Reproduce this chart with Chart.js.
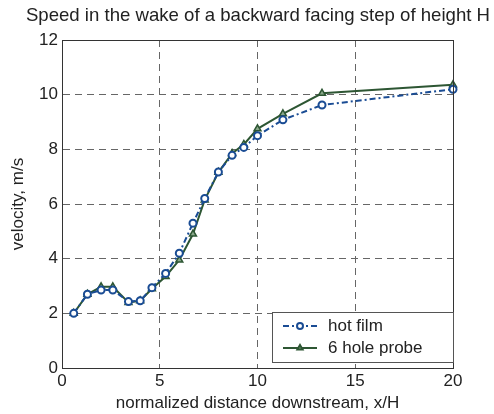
<!DOCTYPE html>
<html>
<head>
<meta charset="utf-8">
<script src="https://cdn.jsdelivr.net/npm/chart.js@4"></script>
<style>
  html, body { margin: 0; padding: 0; background: #fff; }
  #wrap { width: 494px; height: 414px; }
</style>
</head>
<body>
<div id="wrap"><canvas id="grafico"></canvas></div>
<script>
// distancia normalizada x/H
var posiciones = [0.6, 1.3, 2.0, 2.6, 3.4, 4.0, 4.6, 5.3, 6.0, 6.7, 7.3, 8.0, 8.7, 9.3, 10.0, 11.3, 13.3, 20.0];
// hot film
var hotFilm = [2.0, 2.7, 2.85, 2.85, 2.43, 2.46, 2.94, 3.46, 4.2, 5.3, 6.2, 7.17, 7.78, 8.07, 8.5, 9.08, 9.62, 10.2];
// 6 hole probe
var sonda6 = [2.0, 2.7, 2.97, 2.97, 2.4, 2.46, 2.9, 3.35, 3.95, 4.9, 6.15, 7.16, 7.85, 8.18, 8.75, 9.3, 10.05, 10.36];

var ticksX = [0, 5, 10, 15, 20];
var ticksY = [0, 2, 4, 6, 8, 10, 12];
var titulo = "Speed in the wake of a backward facing step of height H";

var azul = "#1a4c94";
var verde = "#2d5633";
var fuente = "'Liberation Sans', Arial, sans-serif";

function puntos(ys) {
  return posiciones.map(function (x, i) { return { x: x, y: ys[i] }; });
}

// titulo, marco completo y leyenda dentro del area
var marco = {
  id: "marco",
  afterDraw: function (chart) {
    var ctx = chart.ctx, a = chart.chartArea;
    ctx.save();
    ctx.fillStyle = "#222";
    ctx.font = "18.6px " + fuente;
    ctx.textBaseline = "middle";
    ctx.textAlign = "right";
    ctx.fillText(titulo, 490, 16);
    ctx.textAlign = "left";

    ctx.strokeStyle = "#333";
    ctx.lineWidth = 1;
    ctx.strokeRect(a.left + 0.5, a.top + 0.5, a.right - a.left, a.bottom - a.top);

    // leyenda
    var bx = 272, by = 312, bw = 181, bh = 50;
    ctx.fillStyle = "#fff";
    ctx.fillRect(bx, by, bw, bh);
    ctx.strokeStyle = "#555";
    ctx.strokeRect(bx + 0.5, by + 0.5, bw, bh);
    chart.data.datasets.forEach(function (ds, i) {
      var ly = by + 14 + i * 22;
      ctx.strokeStyle = ds.borderColor;
      ctx.lineWidth = 2;
      ctx.setLineDash(ds.borderDash || []);
      ctx.beginPath();
      ctx.moveTo(bx + 11, ly);
      ctx.lineTo(bx + 45, ly);
      ctx.stroke();
      ctx.setLineDash([]);
      ctx.fillStyle = ds.pointBackgroundColor;
      Chart.helpers.drawPoint(ctx, {
        pointStyle: ds.pointStyle, radius: 3, borderWidth: 1.5, rotation: 0
      }, bx + 28, ly);
      ctx.fillStyle = "#222";
      ctx.font = "17px " + fuente;
      ctx.textBaseline = "middle";
      ctx.fillText(ds.label, bx + 56, ly);
    });
    ctx.restore();
  }
};

new Chart(document.getElementById("grafico"), {
  type: "line",
  data: {
    datasets: [{
      label: "hot film",
      data: puntos(hotFilm),
      borderColor: azul,
      backgroundColor: "#fff",
      borderWidth: 2,
      borderDash: [6, 3, 2, 3],
      pointStyle: "circle",
      pointRadius: 3.5,
      pointBorderWidth: 2,
      pointBackgroundColor: "#fff",
      clip: false,
      tension: 0
    }, {
      label: "6 hole probe",
      data: puntos(sonda6),
      borderColor: verde,
      backgroundColor: "#8aa88a",
      borderWidth: 2,
      pointStyle: "triangle",
      pointRadius: 4,
      pointBorderWidth: 1.5,
      pointBackgroundColor: "#8aa88a",
      clip: false,
      tension: 0
    }]
  },
  options: {
    responsive: true,
    maintainAspectRatio: false,
    animation: false,
    layout: { padding: { left: 8, right: 41, top: 40, bottom: 0 } },
    plugins: {
      legend: { display: false },
      tooltip: { enabled: false },
      title: { display: false }
    },
    scales: {
      x: {
        type: "linear",
        min: 0, max: 20,
        afterBuildTicks: function (s) { s.ticks = ticksX.map(function (v) { return { value: v }; }); },
        afterFit: function (s) { s.height = 46; },
        grid: { color: "#666", drawTicks: false },
        border: { display: true, color: "#333", dash: [7, 5] },
        ticks: { color: "#222", font: { family: fuente, size: 17 }, padding: 3, maxRotation: 0 },
        title: {
          display: true, text: "normalized distance downstream, x/H",
          color: "#222", font: { family: fuente, size: 17 }, padding: { top: 0, bottom: 0 }
        }
      },
      y: {
        min: 0, max: 12,
        afterBuildTicks: function (s) { s.ticks = ticksY.map(function (v) { return { value: v }; }); },
        afterFit: function (s) { s.width = 54; },
        grid: { color: "#666", drawTicks: false },
        border: { display: true, color: "#333", dash: [7, 5] },
        ticks: { color: "#222", font: { family: fuente, size: 17 }, padding: 4 },
        title: {
          display: true, text: "velocity, m/s",
          color: "#222", font: { family: fuente, size: 17 }, padding: { top: 0, bottom: 8 }
        }
      }
    }
  },
  plugins: [marco]
});
</script>
</body>
</html>
